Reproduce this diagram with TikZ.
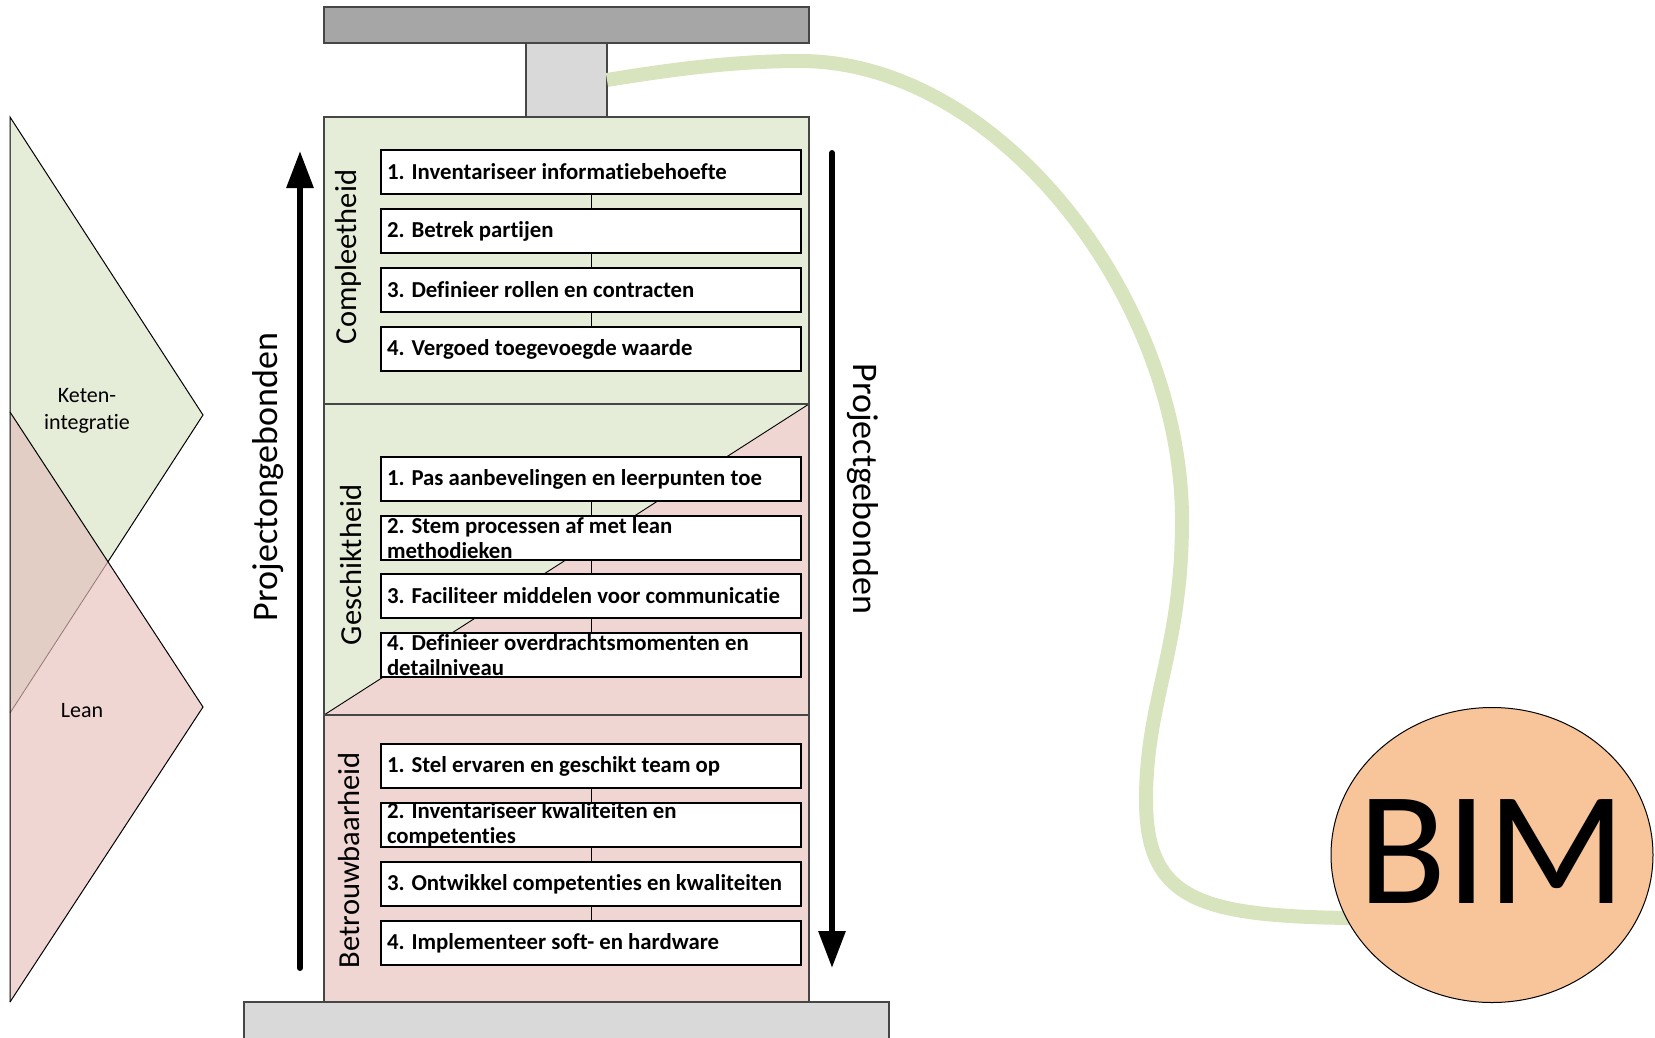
\documentclass[tikz,border=0pt]{standalone}
\usepackage{fontspec}
\setmainfont{Carlito}[Ligatures=NoCommon]
\usetikzlibrary{arrows.meta,shapes.geometric}
\definecolor{secgreen}{RGB}{229,237,216}
\definecolor{secpink}{RGB}{239,214,211}
\definecolor{overlapc}{RGB}{226,206,196}
\definecolor{faintline}{RGB}{150,120,115}
\definecolor{linkgreen}{RGB}{215,228,189}
\definecolor{bimfill}{RGB}{248,196,154}
\definecolor{bargray}{RGB}{166,166,166}
\definecolor{lightgrayc}{RGB}{217,217,217}
\definecolor{edgegray}{RGB}{70,70,70}
\newcommand{\boxtxt}[1]{\parbox[c][44pt][c]{408pt}{\raggedright\fontsize{22.8}{24.5}\selectfont\bfseries #1}}
\begin{document}
\begin{tikzpicture}[x=1pt,y=-1pt,
  stepbox/.style={draw=black, line width=2pt, fill=white, inner xsep=6pt, inner ysep=0pt, anchor=north west, outer sep=0pt},
  conn/.style={draw=black, line width=1pt},
  seclabel/.style={rotate=90, font=\fontsize{30.5}{36}\selectfont, inner sep=0pt},
  sidelabel/.style={font=\fontsize{36}{42}\selectfont, inner sep=0pt},
  bigarrow/.style={line width=6pt, line cap=round, -{Triangle[width=26pt,length=37pt]}},
  tri/.style={draw=black, line width=1pt},
  link/.style={draw=linkgreen, line width=14pt},
  grayedge/.style={draw=edgegray, line width=1.2pt}]
\useasboundingbox (0,0) rectangle (1655,1037);

% ---- left triangles ----
\coordinate (G1) at (10,117);
\coordinate (GT) at (203,415);
\coordinate (G2) at (10,713);
\coordinate (P1) at (10,412);
\coordinate (PT) at (203,707);
\coordinate (P2) at (10,1002);
\coordinate (X) at (108,561.7);
\fill[secgreen] (G1) -- (GT) -- (G2) -- cycle;
\fill[secpink] (P1) -- (PT) -- (P2) -- cycle;
\fill[overlapc] (P1) -- (X) -- (G2) -- cycle;
\draw[faintline, line width=0.8pt] (X) -- (G2);
\draw[tri] (P2) -- (G1) -- (GT) -- (X);
\draw[tri] (P1) -- (PT) -- (P2);
\node[font=\fontsize{22}{27}\selectfont, align=center, inner sep=0pt] (keten) at (87,411) {Keten-\\integratie};
\node[font=\fontsize{22}{27}\selectfont, inner sep=0pt] (lean) at (82,711) {Lean};

% ---- column ----
\fill[bargray] (324,7) rectangle (809,43);
\draw[grayedge] (324,7) rectangle (809,43);
\fill[lightgrayc] (526,43) rectangle (607,117);
\draw[grayedge] (526,43) rectangle (607,117);
\fill[secgreen] (324,117) rectangle (809,715);
\fill[secpink] (324,715) -- (809,404) -- (809,715) -- cycle;
\fill[secpink] (324,715) rectangle (809,1002);
\draw[black, line width=0.9pt] (324,715) -- (809,404);
\draw[grayedge] (324,404) -- (809,404);
\draw[grayedge] (324,715) -- (809,715);
\draw[grayedge] (324,117) rectangle (809,1002);
\fill[lightgrayc] (244,1002) rectangle (889,1050);
\draw[grayedge] (244,1050) -- (244,1002) -- (889,1002) -- (889,1050);

% ---- section labels ----
\node[seclabel] (lc) at (348,257) {Compleetheid};
\node[seclabel] (lg) at (351,565) {Geschiktheid};
\node[seclabel] (lb) at (349,860) {Betrouwbaarheid};

% ---- boxes ----
\node[stepbox] (c1) at (381,150) {\boxtxt{1. Inventariseer informatiebehoefte}};
\node[stepbox] (c2) at (381,209) {\boxtxt{2. Betrek partijen}};
\node[stepbox] (c3) at (381,268) {\boxtxt{3. Definieer rollen en contracten}};
\node[stepbox] (c4) at (381,327) {\boxtxt{4. Vergoed toegevoegde waarde}};
\node[stepbox] (g1) at (381,457) {\boxtxt{1. Pas aanbevelingen en leerpunten toe}};
\node[stepbox] (g2) at (381,516) {\boxtxt{2. Stem processen af met lean\\methodieken}};
\node[stepbox] (g3) at (381,574) {\boxtxt{3. Faciliteer middelen voor communicatie}};
\node[stepbox] (g4) at (381,633) {\boxtxt{4. Definieer overdrachtsmomenten en\\detailniveau}};
\node[stepbox] (b1) at (381,744) {\boxtxt{1. Stel ervaren en geschikt team op}};
\node[stepbox] (b2) at (381,803) {\boxtxt{2. Inventariseer kwaliteiten en\\competenties}};
\node[stepbox] (b3) at (381,862) {\boxtxt{3. Ontwikkel competenties en kwaliteiten}};
\node[stepbox] (b4) at (381,921) {\boxtxt{4. Implementeer soft- en hardware}};
\draw[conn] (c1.south) -- (c2.north);
\draw[conn] (c2.south) -- (c3.north);
\draw[conn] (c3.south) -- (c4.north);
\draw[conn] (g1.south) -- (g2.north);
\draw[conn] (g2.south) -- (g3.north);
\draw[conn] (g3.south) -- (g4.north);
\draw[conn] (b1.south) -- (b2.north);
\draw[conn] (b2.south) -- (b3.north);
\draw[conn] (b3.south) -- (b4.north);

% ---- big arrows ----
\coordinate (upS) at (300,968);
\coordinate (upE) at (300,151);
\coordinate (dnS) at (832,153);
\coordinate (dnE) at (832,968);
\draw[bigarrow] (upS) -- (upE);
\draw[bigarrow] (dnS) -- (dnE);
\node[sidelabel, rotate=90] (pong) at (268,477) {Projectongebonden};
\node[sidelabel, rotate=-90] (pgeb) at (863,489) {Projectgebonden};

% ---- link and BIM ----
\coordinate (cs) at (607,80);
\coordinate (ce) at (1350,918);
\draw[link] (cs) .. controls (680,68) and (740,61) .. (800,61)
  .. controls (1000,61) and (1182,300) .. (1182,520)
  .. controls (1182,650) and (1146,700) .. (1146,800)
  .. controls (1146,900) and (1200,916) .. (ce);
\node[ellipse, draw=black, line width=1pt, fill=bimfill, minimum width=322pt, minimum height=295pt, inner sep=0pt] (bim) at (1492,855) {};
\node[font=\fontsize{162}{166}\selectfont, inner sep=0pt] (bimtext) at (1492,852) {BIM};
\end{tikzpicture}
\end{document}
